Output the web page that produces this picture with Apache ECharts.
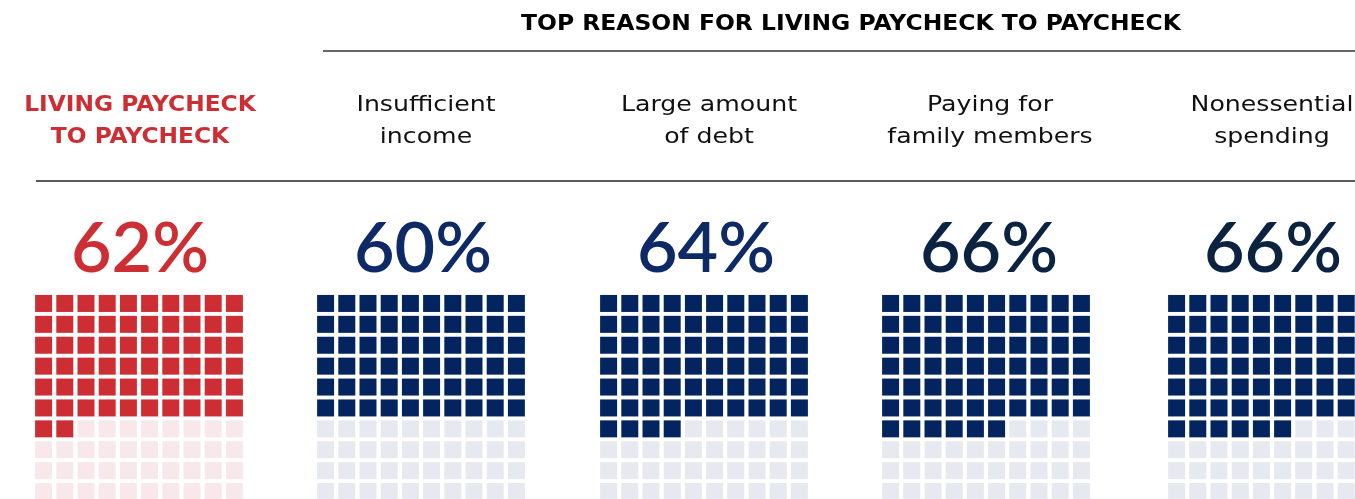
<!DOCTYPE html>
<html><head><meta charset="utf-8">
<script src="https://cdn.jsdelivr.net/npm/echarts@6/dist/echarts.min.js"></script>
<style>html,body{margin:0;padding:0;background:#fff}#c{width:1355px;height:499px}</style>
</head><body><div id="c"></div>
<script>
// ---- data ----
var categories = ['LIVING PAYCHECK\nTO PAYCHECK', 'Insufficient\nincome', 'Large amount\nof debt', 'Paying for\nfamily members', 'Nonessential\nspending'];
var percents = [62, 60, 64, 66, 66];
var headerTitle = 'TOP REASON FOR LIVING PAYCHECK TO PAYCHECK';

// ---- styling ----
var W = 1355, H = 499;
var gridLefts = [33, 315, 598, 880, 1166];
var gridTop = 293, cellPitchX = 21.2, cellPitchY = 20.9;
var centers = [140, 426, 709, 990, 1272];
var numCenters = [140, 423, 706, 989, 1273];
var fillColors = ['#cc2e34', '#03245f', '#03245f', '#03245f', '#03245f'];
var emptyColors = ['#f8e8ea', '#e6e9f0', '#e6e9f0', '#e6e9f0', '#e6e9f0'];
var numColors = ['#cc2e34', '#0e2a66', '#0e2a66', '#0b2240', '#0b2240'];

var grids = [], xAxes = [], yAxes = [], series = [];
percents.forEach(function (p, k) {
  // grid must stay inside the canvas; the visible part is cropped via the axis range
  var gw = Math.min(10 * cellPitchX, W - gridLefts[k]);
  var gh = Math.min(10 * cellPitchY, H - gridTop);
  grids.push({left: gridLefts[k], top: gridTop, width: gw, height: gh});
  xAxes.push({type: 'value', gridIndex: k, show: false, min: -0.5, max: -0.5 + gw / cellPitchX});
  yAxes.push({type: 'value', gridIndex: k, show: false, inverse: true, min: -0.5, max: -0.5 + gh / cellPitchY});
  var filled = [], empty = [];
  for (var i = 0; i < 100; i++) {
    var pt = [i % 10, Math.floor(i / 10)];
    (i < p ? filled : empty).push(pt);
  }
  series.push({type: 'scatter', xAxisIndex: k, yAxisIndex: k, symbol: 'rect', symbolSize: 17, clip: false,
    itemStyle: {color: fillColors[k], opacity: 1}, data: filled, silent: true, animation: false});
  series.push({type: 'scatter', xAxisIndex: k, yAxisIndex: k, symbol: 'rect', symbolSize: 17, clip: false,
    itemStyle: {color: emptyColors[k], opacity: 1}, data: empty, silent: true, animation: false});
});

var graphics = [
  {type: 'text', x: 851, y: 25, scaleX: 1.115, originX: 0, originY: 0,
   style: {text: headerTitle, fill: '#000', font: 'bold 21px "DejaVu Sans"', align: 'center', verticalAlign: 'middle'}},
  {type: 'line', shape: {x1: 323, y1: 51, x2: 1355, y2: 51}, style: {stroke: '#333', lineWidth: 1.5}},
  {type: 'line', shape: {x1: 36, y1: 181, x2: 1355, y2: 181}, style: {stroke: '#222', lineWidth: 1.5}}
];
categories.forEach(function (c, k) {
  var lines = c.split('\n');
  lines.forEach(function (ln, j) {
    graphics.push({type: 'text', x: centers[k], y: 106 + j * 32,
      scaleX: k === 0 ? 1.11 : 1.2, originX: 0, originY: 0,
      style: k === 0
        ? {text: ln, fill: '#cc2e34', font: 'bold 21px "DejaVu Sans"', align: 'center', verticalAlign: 'middle'}
        : {text: ln, fill: '#111', font: '21px "DejaVu Sans"', align: 'center', verticalAlign: 'middle'}});
  });
  graphics.push({type: 'text', x: numCenters[k], y: 249,
    style: {text: percents[k] + '%', fill: numColors[k], font: '600 70px Lato', align: 'center', verticalAlign: 'middle'}});
});

var chart = echarts.init(document.getElementById('c'), null, {renderer: 'canvas'});
chart.setOption({
  animation: false,
  grid: grids, xAxis: xAxes, yAxis: yAxes, series: series,
  graphic: graphics
});
</script></body></html>
